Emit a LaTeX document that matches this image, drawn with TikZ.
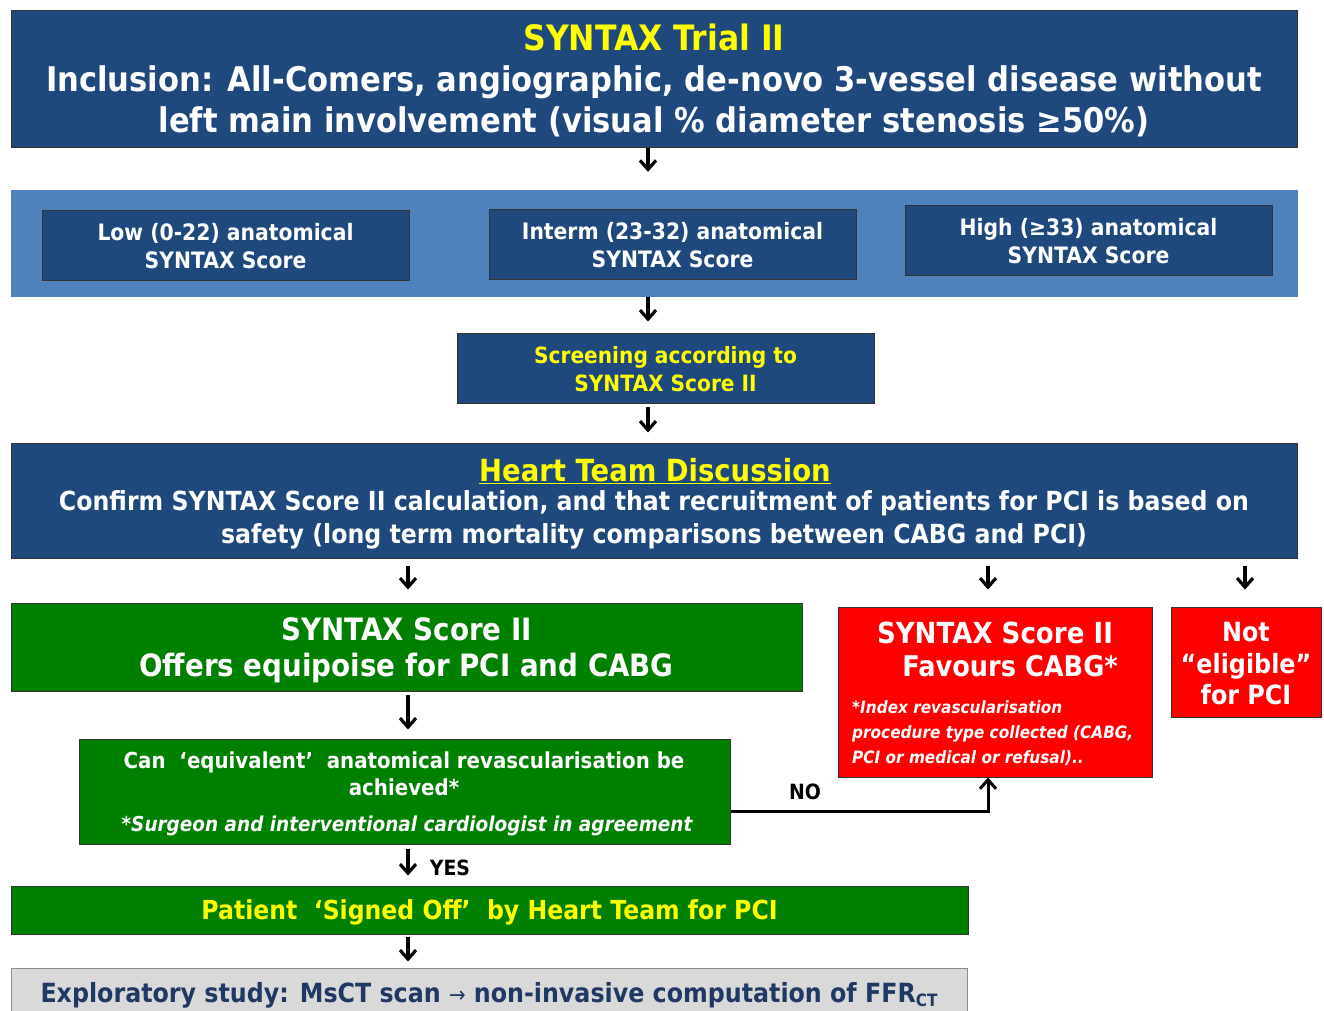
\documentclass[tikz,border=0pt]{standalone}
\usepackage{fontspec}
\setmainfont[FakeStretch=0.9]{DejaVu Sans}
\usetikzlibrary{arrows.meta,calc}
\definecolor{dblue}{HTML}{1F497D}
\definecolor{lblue}{HTML}{4F81BD}
\definecolor{dgreen}{HTML}{008000}
\definecolor{rred}{HTML}{FF0000}
\definecolor{yel}{HTML}{FFFF00}
\definecolor{lgrey}{HTML}{D9D9D9}
\definecolor{navy}{HTML}{1F3864}
\newcommand\fsz[2]{\fontsize{#1}{#2}\selectfont}
\begin{document}
\begin{tikzpicture}[x=1pt,y=-1pt,
  box/.style={draw=black!80, line width=1pt, inner sep=0pt},
  tbox/.style={inner sep=0pt, align=center, text=white},
  arr/.style={line width=3.2pt, -{Straight Barb[length=9pt,width=16pt]}}]
\useasboundingbox (0,0) rectangle (1324,1010);
\fill[white] (0,0) rectangle (1324,1010);
% columns
\coordinate (cA) at (648,0);
\coordinate (cL) at (408,0);
\coordinate (cM) at (988,0);
\coordinate (cR) at (1245,0);
\coordinate (noY) at (0,811);
% top
\node[box, fill=dblue, minimum width=1286, minimum height=137] (top) at (654,78.5) {};
\node[tbox, font=\fsz{34}{41}\bfseries] (toptxt) at (654,80) {\textcolor{yel}{\fsz{35}{41}SYNTAX Trial II}\\Inclusion: All-Comers, angiographic, de-novo 3-vessel disease without\\left main involvement (visual \% diameter stenosis ≥50\%)};
% band
\node[fill=lblue, inner sep=0pt, minimum width=1287, minimum height=107] (band) at (654.5,243.5) {};
\node[box, fill=dblue, minimum width=367, minimum height=70] (low) at (225.5,245) {};
\node[tbox, font=\fsz{22.6}{28}\bfseries] (lowtxt) at (225.5,246) {Low (0-22) anatomical\\SYNTAX Score};
\node[box, fill=dblue, minimum width=367, minimum height=70] (mid) at (672.5,244) {};
\node[tbox, font=\fsz{22.6}{28}\bfseries] (midtxt) at (672.5,245) {Interm (23-32) anatomical\\SYNTAX Score};
\node[box, fill=dblue, minimum width=367, minimum height=70] (high) at (1088.5,240) {};
\node[tbox, font=\fsz{22.6}{28}\bfseries] (hightxt) at (1088.5,241) {High (≥33) anatomical\\SYNTAX Score};
% screening
\node[box, fill=dblue, minimum width=417, minimum height=70] (scr) at (665.5,368) {};
\node[tbox, text=yel, font=\fsz{22.4}{28}\bfseries] (scrtxt) at (665.5,369) {Screening according to\\SYNTAX Score II};
% heart team
\node[box, fill=dblue, minimum width=1286, minimum height=115] (heart) at (654,500.5) {};
\node[tbox, text=yel, font=\fsz{30.5}{31}\bfseries] (hearttitle) at (655,471) {\underline{Heart Team Discussion}};
\node[tbox, font=\fsz{26.3}{33}\bfseries] (hearttxt) at (654,520) {Confirm SYNTAX Score II calculation, and that recruitment of patients for PCI is based on\\safety (long term mortality comparisons between CABG and PCI)};
% green equipoise
\node[box, fill=dgreen, minimum width=791, minimum height=88] (equi) at (406.5,647) {};
\node[tbox, font=\fsz{30.8}{36}\bfseries] (equitxt) at (406.5,650) {SYNTAX Score II\\Offers equipoise for PCI and CABG};
% red CABG
\node[box, fill=rred, minimum width=314, minimum height=170] (cabg) at (995,692) {};
\node[tbox, font=\fsz{29}{29}\bfseries] (cabg1) at (995,633) {SYNTAX Score II};
\node[tbox, font=\fsz{28.5}{28.5}\bfseries] (cabg2) at (1010,666) {Favours CABG*};
\node[tbox, align=left, anchor=west, font=\fsz{17}{25}\bfseries\itshape] (cabgnote) at (852,733) {*Index revascularisation\\procedure type collected (CABG,\\PCI or medical or refusal)..};
% not eligible
\node[box, fill=rred, minimum width=150, minimum height=110] (note) at (1246,662) {};
\node[tbox, font=\fsz{26.5}{31.5}\bfseries] (notetxt) at (1246,664) {Not\\“eligible”\\for PCI};
% can box
\node[box, fill=dgreen, minimum width=651, minimum height=105] (can) at (404.5,791.5) {};
\node[tbox, font=\fsz{22}{27}\bfseries] (can1) at (404,774) {Can \ ‘equivalent’ \ anatomical revascularisation be\\achieved*};
\node[tbox, font=\fsz{20.5}{20.5}\bfseries\itshape] (can2) at (407,826) {*Surgeon and interventional cardiologist in agreement};
% patient
\node[box, fill=dgreen, minimum width=957, minimum height=48] (pat) at (489.5,910) {};
\node[tbox, text=yel, font=\fsz{26.2}{26.2}\bfseries] (pattxt) at (489.5,912) {Patient \ ‘Signed Off’ \ by Heart Team for PCI};
% exploratory
\node[draw=black!45, line width=1pt, fill=lgrey, inner sep=0pt, minimum width=956, minimum height=60] (expl) at (489,998) {};
\node[tbox, text=navy, font=\fsz{26.4}{26.4}\bfseries, anchor=base] (expltxt) at (489,1002) {Exploratory study: MsCT scan {\fsz{22}{22}\mdseries→} non-invasive computation of FFR\raisebox{-0.16em}{\fsz{17}{17}CT}};
% labels
\node[inner sep=0pt, font=\fsz{21}{21}\bfseries] (nolab) at (805,792) {NO};
\node[inner sep=0pt, font=\fsz{21}{21}\bfseries] (yeslab) at (450,868) {YES};
% arrows
\draw[arr, shorten >=18pt] (top.south -| cA) -- (band.north -| cA);
\draw[arr, shorten >=11pt] (band.south -| cA) -- (scr.north -| cA);
\draw[arr, shorten <=3pt, shorten >=10pt] (scr.south -| cA) -- (heart.north -| cA);
\draw[arr, shorten <=7pt, shorten >=13pt] (heart.south -| cL) -- (equi.north -| cL);
\draw[arr, shorten <=7pt, shorten >=17pt] (heart.south -| cM) -- (cabg.north -| cM);
\draw[arr, shorten <=7pt, shorten >=17pt] (heart.south -| cR) -- (note.north -| cR);
\draw[arr, shorten <=3pt, shorten >=9pt] (equi.south -| cL) -- (can.north -| cL);
\draw[arr, shorten <=4pt, shorten >=10pt] (can.south -| cL) -- (pat.north -| cL);
\draw[arr, shorten <=2pt, shorten >=6pt] (pat.south -| cL) -- (expl.north -| cL);
\draw[arr, line width=3pt] (can.east |- noY) -| (cabg.south -| cM);
\end{tikzpicture}
\end{document}
